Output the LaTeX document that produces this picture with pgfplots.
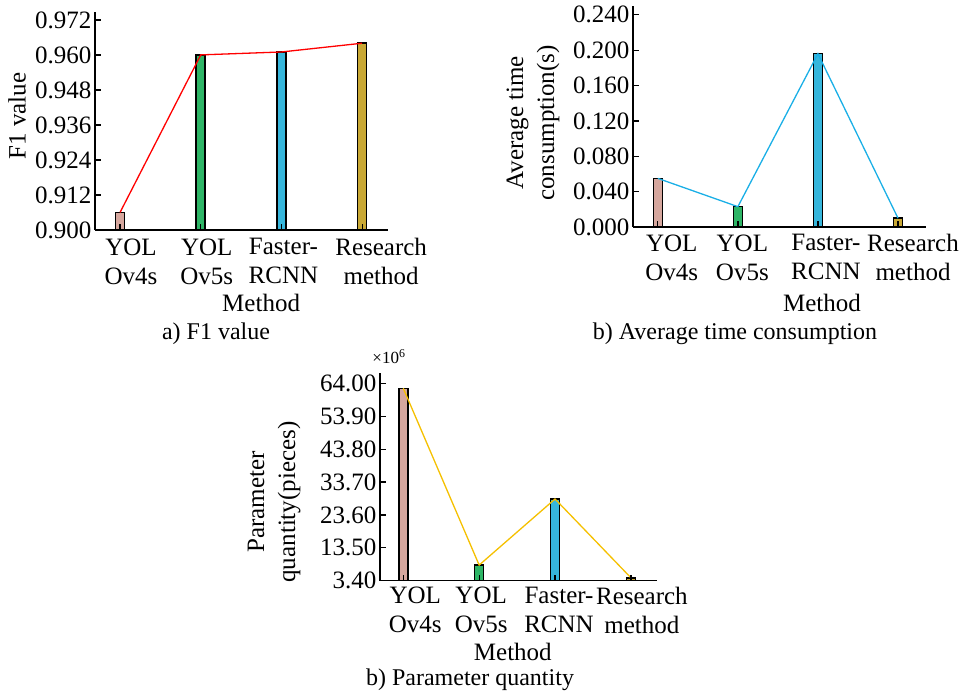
\documentclass[border=0pt]{standalone}
\usepackage{pgfplots}
\pgfplotsset{compat=1.18}
\usepackage{fontspec}
\setmainfont{Liberation Serif}

\definecolor{cpink}{HTML}{D6A79E}
\definecolor{cgreen}{HTML}{2EB566}
\definecolor{cblue}{HTML}{36B6DC}
\definecolor{cgold}{HTML}{C9A834}
\definecolor{lblue}{HTML}{1AAFE6}
\definecolor{lgold}{HTML}{F5C000}

% two-line tick label, moved right by #1/2 pt
\newcommand\lab[3]{\hspace*{#1pt}#2\\\hspace*{#1pt}#3}

\pgfplotsset{
  panel/.style={
    scale only axis,
    anchor=south west,
    axis lines=left,
    axis line style={line width=1.5pt, -},
    tick align=inside,
    major tick length=6pt,
    tick style={black, line width=1.3pt},
    axis on top,
    xtick={0,1,2,3},
    xticklabel style={align=center, font=\fontsize{25}{29}\selectfont},
    yticklabel style={font=\fontsize{25}{29}\selectfont,
      /pgf/number format/.cd, fixed, fixed zerofill, assume math mode=true},
    label style={font=\fontsize{25}{31}\selectfont},
    ylabel style={align=center, anchor=center},
    xlabel style={anchor=center},
    scaled y ticks=false,
  },
  bar/.style={ybar, bar shift=0pt, bar width=9pt, draw=black, line width=1.5pt},
}

\begin{document}
\begin{tikzpicture}[x=1pt, y=1pt]
\path[use as bounding box] (0,0) rectangle (968,694);

% a) F1 value
\begin{axis}[panel,
  at={(95pt,464pt)}, width=293pt, height=218pt,
  xmin=-0.31, xmax=3.32, ymin=0.900, ymax=0.9747,
  ytick={0.900,0.912,0.924,0.936,0.948,0.960,0.972},
  yticklabel style={/pgf/number format/precision=3},
  xticklabels={\lab{22}{YOL}{Ov4s}, \lab{12}{YOL}{Ov5s},
    \lab{4}{Faster-}{RCNN}, \lab{38}{Research}{method}},
  xticklabel style={yshift=-5pt},
  ylabel={F1 value},
  ylabel style={at={(axis description cs:-0.266,0.523)}},
  xlabel={Method},
  xlabel style={at={(axis description cs:0.567,0)}, yshift=-73pt},
]
\addplot[bar, fill=cpink] coordinates {(0,0.906)};
\addplot[bar, fill=cgreen] coordinates {(1,0.960)};
\addplot[bar, fill=cblue] coordinates {(2,0.961)};
\addplot[bar, fill=cgold] coordinates {(3,0.964)};
\addplot[red, line width=1.3pt] coordinates {(0,0.906) (1,0.960) (2,0.961) (3,0.964)};
\end{axis}

% b) Average time consumption
\begin{axis}[panel,
  at={(633pt,467pt)}, width=293pt, height=221pt,
  xmin=-0.31, xmax=3.35, ymin=0, ymax=0.25,
  ytick={0,0.04,0.08,0.12,0.16,0.20,0.24},
  yticklabel style={/pgf/number format/precision=3},
  xticklabels={\lab{28}{YOL}{Ov4s}, \lab{9}{YOL}{Ov5s},
    \lab{16}{Faster-}{RCNN}, \lab{30}{Research}{method}},
  xticklabel style={yshift=-4pt},
  ylabel={Average time\\consumption(s)},
  ylabel style={at={(axis description cs:-0.341,0.471)}},
  xlabel={Method},
  xlabel style={at={(axis description cs:0.645,0)}, yshift=-76pt},
]
\addplot[bar, fill=cpink] coordinates {(0,0.055)};
\addplot[bar, fill=cgreen] coordinates {(1,0.023)};
\addplot[bar, fill=cblue] coordinates {(2,0.196)};
\addplot[bar, fill=cgold] coordinates {(3,0.010)};
\addplot[lblue, line width=1.3pt] coordinates {(0,0.055) (1,0.023) (2,0.196) (3,0.010)};
\end{axis}

% b) Parameter quantity (x 10^6)
\begin{axis}[panel,
  at={(380pt,113.3pt)}, width=276.7pt, height=207.7pt,
  xmin=-0.307, xmax=3.34, ymin=3.4, ymax=67.2,
  ytick={3.4,13.5,23.6,33.7,43.8,53.9,64},
  yticklabel style={/pgf/number format/precision=2},
  xticklabels={\lab{24}{YOL}{Ov4s}, \lab{4}{YOL}{Ov5s},
    \lab{8}{Faster-}{RCNN}, \lab{22}{Research}{method}},
  xticklabel style={yshift=-3pt},
  ylabel={Parameter\\quantity(pieces)},
  ylabel style={at={(axis description cs:-0.383,0.379)}},
  xlabel={Method},
  xlabel style={at={(axis description cs:0.48,0)}, yshift=-71pt},
]
\addplot[bar, fill=cpink] coordinates {(0,62.5)};
\addplot[bar, fill=cgreen] coordinates {(1,8.2)};
\addplot[bar, fill=cblue] coordinates {(2,28.5)};
\addplot[bar, fill=cgold] coordinates {(3,4.3)};
\addplot[lgold, line width=1.3pt] coordinates {(0,62.5) (1,8.2) (2,28.5) (3,4.3)};
\end{axis}

\node[font=\fontsize{17}{20}\selectfont] at (389,337) {×10\textsuperscript{6}};

\node[anchor=base, font=\fontsize{24}{28}\selectfont] at (216,354) {a) F1 value};
\node[anchor=base, font=\fontsize{24}{28}\selectfont] at (735,354) {b) Average time consumption};
\node[anchor=base, font=\fontsize{24}{28}\selectfont] at (470,9) {b) Parameter quantity};
\end{tikzpicture}
\end{document}
